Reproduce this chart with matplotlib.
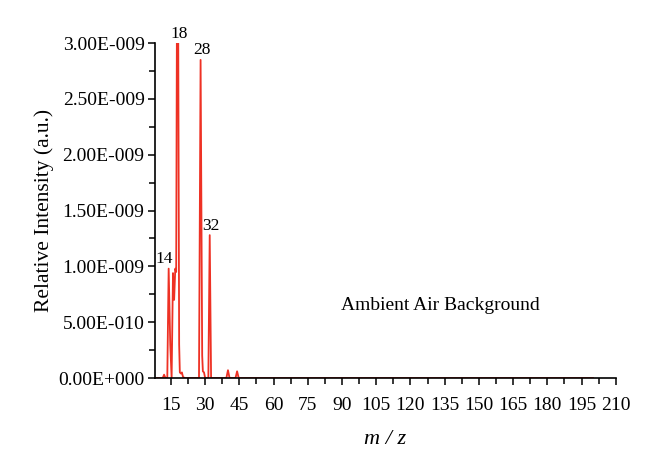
import numpy as np
import matplotlib.pyplot as plt
import matplotlib.ticker as ticker

plt.rcParams['font.family'] = ['Liberation Serif', 'DejaVu Serif']

# spectrum points (m/z, intensity in units of 1e-9)
mz = [8, 11.4, 12, 12.6, 13.4, 14, 14.7, 15.3, 15.9, 16.4, 16.9, 17.3,
      17.6, 18.2, 18.6, 18.9, 19.4, 19.8, 20.3, 21.0, 27.3, 28.0, 28.7,
      29.0, 29.5, 30.0, 31.4, 32.0, 32.6, 39.3, 40.0, 40.7, 43.3, 44.0,
      44.7, 200]
intensity = [0, 0, 0.03, 0, 0, 0.98, 0.3, 0, 0.94, 0.70, 0.98, 0.95,
             3.05, 3.05, 0.3, 0.05, 0.04, 0.05, 0.01, 0, 0, 2.85, 0.2,
             0.06, 0.05, 0, 0, 1.28, 0, 0, 0.07, 0, 0, 0.06,
             0, 0]

peak_mz = [14, 18, 28, 32]
peak_top = [0.98, 3.0, 2.85, 1.28]

yticks = [0, 0.5e-9, 1.0e-9, 1.5e-9, 2.0e-9, 2.5e-9, 3.0e-9]
ylabels = ['0.00E+000', '5.00E-010', '1.00E-009', '1.50E-009',
           '2.00E-009', '2.50E-009', '3.00E-009']
xticks = [15, 30, 45, 60, 75, 90, 105, 120, 135, 150, 165, 180, 195, 210]

fig = plt.figure(figsize=(6.6, 4.74), dpi=100)
ax = fig.add_axes([0.2348, 0.2025, 0.933 - 0.2348, 0.909 - 0.2025])

ax.plot(mz, np.array(intensity) * 1e-9, color='#ee3124', lw=1.3)

for m, h in zip(peak_mz, peak_top):
    dx = -2.0 if m == 14 else 0.5
    ax.annotate(str(m), (m + dx, h * 1e-9), xytext=(0, 1),
                textcoords='offset points', ha='center', va='bottom',
                fontsize=12.5, annotation_clip=False)

ax.text(133, 0.65e-9, 'Ambient Air Background', ha='center', va='center',
        fontsize=14)

ax.set_xlim(8, 210)
ax.set_ylim(0, 3.0e-9)
ax.set_xticks(xticks)
ax.xaxis.set_minor_locator(ticker.MultipleLocator(7.5))
ax.set_yticks(yticks)
ax.set_yticklabels(ylabels)
ax.yaxis.set_minor_locator(ticker.MultipleLocator(0.25e-9))

for s in ['top', 'right']:
    ax.spines[s].set_visible(False)
for s in ['left', 'bottom']:
    ax.spines[s].set_linewidth(1.2)

ax.tick_params(axis='both', which='major', direction='out', length=5,
               width=1.1, labelsize=14)
ax.tick_params(axis='y', which='major', pad=2.5)
ax.tick_params(axis='x', which='major', pad=9)
ax.tick_params(axis='both', which='minor', direction='out', length=4,
               width=1.1)

ax.set_xlabel('m / z', fontsize=16, fontstyle='italic', labelpad=11)
ax.set_ylabel('Relative Intensity (a.u.)', fontsize=15.5, labelpad=3)

fig.savefig('out.png', dpi=100)
